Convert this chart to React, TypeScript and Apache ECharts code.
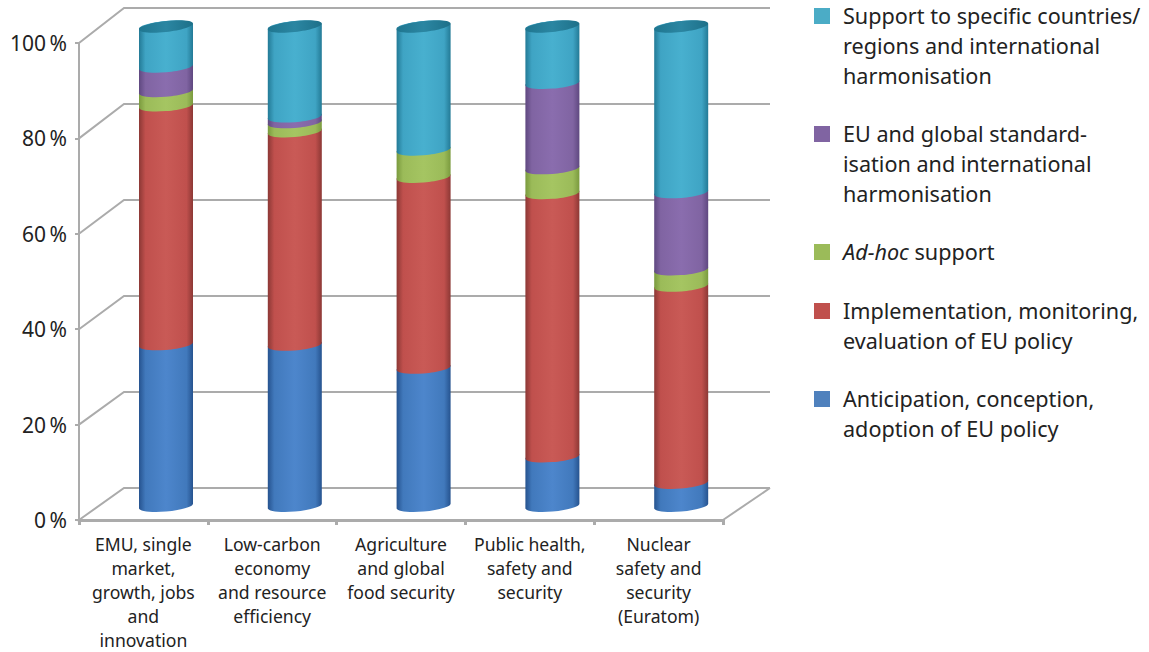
import React, { useEffect, useRef } from "react";
import * as echarts from "echarts";

const categories = [
  "EMU, single\nmarket,\ngrowth, jobs\nand\ninnovation",
  "Low-carbon\neconomy\nand resource\nefficiency",
  "Agriculture\nand global\nfood security",
  "Public health,\nsafety and\nsecurity",
  "Nuclear\nsafety and\nsecurity\n(Euratom)",
];
const anticipation = [33.7, 33.6, 28.8, 10.3, 4.8];
const implementation = [49.8, 44.5, 39.8, 54.9, 41.1];
const adHoc = [3.0, 1.9, 5.7, 5.2, 3.4];
const standardisation = [5.1, 1.2, 0, 17.8, 16.1];
const support = [8.4, 18.8, 25.7, 11.8, 34.6];
const yTicks = [0, 20, 40, 60, 80, 100];

const layers = [
  { name: "Anticipation, conception, adoption of EU policy", values: anticipation, color: "#4179BC", dark: "#26538F", light: "#4D86CC" },
  { name: "Implementation, monitoring, evaluation of EU policy", values: implementation, color: "#C0504D", dark: "#8C3835", light: "#C95A56" },
  { name: "Ad-hoc support", values: adHoc, color: "#9BBB59", dark: "#7A9A3E", light: "#A5C562" },
  { name: "EU and global standardisation and international harmonisation", values: standardisation, color: "#8064A2", dark: "#5F4880", light: "#8A6DAE" },
  { name: "Support to specific countries/regions and international harmonisation", values: support, color: "#3FA4C4", dark: "#237A96", light: "#48B0CF" },
];

const legendItems = [
  { text: "Support to specific countries/\nregions and international\nharmonisation", color: "#4BACC6", y: 8 },
  { text: "EU and global standard-\nisation and international\nharmonisation", color: "#8064A2", y: 126 },
  { text: "{i|Ad-hoc} support", color: "#9BBB59", y: 244 },
  { text: "Implementation, monitoring,\nevaluation of EU policy", color: "#C0504D", y: 303 },
  { text: "Anticipation, conception,\nadoption of EU policy", color: "#4F81BD", y: 391 },
];

const FONT = "'Noto Sans', sans-serif";
const GRID_COLOR = "#ABABAB";
const RADIUS = 27;
const TILT = 2.2;
const CAP_TILT = 3;
const RY = 5.5;
const DEPTH_X = 22.6;
const K = 0.5523;

const depthY = (v: number) => 14 + v * 0.025;

function cylinderPath(cx: number, yb: number, yt: number) {
  const r = RADIUS, t = TILT, ry = RY;
  return [
    `M${cx - r} ${yb + t}`,
    `C${cx - r} ${yb + t + K * ry} ${cx - K * r} ${yb + ry + K * t} ${cx} ${yb + ry}`,
    `C${cx + K * r} ${yb + ry - K * t} ${cx + r} ${yb - t + K * ry} ${cx + r} ${yb - t}`,
    `L${cx + r} ${yt - t}`,
    `C${cx + r} ${yt - t - K * ry} ${cx + K * r} ${yt - ry - K * t} ${cx} ${yt - ry}`,
    `C${cx - K * r} ${yt - ry + K * t} ${cx - r} ${yt + t - K * ry} ${cx - r} ${yt + t}`,
    "Z",
  ].join(" ");
}

function ellipsePath(cx: number, y: number) {
  const r = RADIUS, t = CAP_TILT, ry = RY;
  return [
    `M${cx - r} ${y + t}`,
    `C${cx - r} ${y + t + K * ry} ${cx - K * r} ${y + ry + K * t} ${cx} ${y + ry}`,
    `C${cx + K * r} ${y + ry - K * t} ${cx + r} ${y - t + K * ry} ${cx + r} ${y - t}`,
    `C${cx + r} ${y - t - K * ry} ${cx + K * r} ${y - ry - K * t} ${cx} ${y - ry}`,
    `C${cx - K * r} ${y - ry + K * t} ${cx - r} ${y + t - K * ry} ${cx - r} ${y + t}`,
    "Z",
  ].join(" ");
}

function buildOption() {
  const cum = categories.map(() => 0);
  const layerSeries = layers.map((layer, li) => {
    const data = layer.values.map((v, i) => {
      const start = cum[i];
      cum[i] += v;
      return [i, start, cum[i]];
    });
    const fill = new echarts.graphic.LinearGradient(0, 0, 1, 0, [
      { offset: 0, color: layer.dark },
      { offset: 0.12, color: layer.color },
      { offset: 0.5, color: layer.light },
      { offset: 0.88, color: layer.color },
      { offset: 1, color: layer.dark },
    ]);
    const capFill = new echarts.graphic.LinearGradient(0, 0, 1, 0, [
      { offset: 0, color: "#1F7690" },
      { offset: 0.5, color: "#2B86A2" },
      { offset: 1, color: "#1D7089" },
    ]);
    return {
      type: "custom",
      name: layer.name,
      z: 5 + li,
      data,
      renderItem: (_p: any, api: any) => {
        if (api.value(2) - api.value(1) <= 0) return { type: "group", children: [] };
        const [x, yb] = api.coord([api.value(0), api.value(1)]);
        const [, yt] = api.coord([api.value(0), api.value(2)]);
        const cx = x + DEPTH_X;
        const bottom = yb - depthY(api.value(1));
        const top = yt - depthY(api.value(2));
        const children: any[] = [
          { type: "path", shape: { pathData: cylinderPath(cx, bottom, top) }, style: { fill } },
        ];
        if (li === layers.length - 1) {
          children.push({
            type: "path",
            shape: { pathData: ellipsePath(cx, top) },
            style: { fill: capFill },
          });
        }
        return { type: "group", children };
      },
    };
  });

  const wallSeries = {
    type: "custom",
    name: "walls",
    z: 1,
    silent: true,
    data: yTicks.map((t) => [t]),
    renderItem: (params: any, api: any) => {
      const v = api.value(0);
      const [, y] = api.coord([0, v]);
      const left = params.coordSys.x;
      const right = left + params.coordSys.width;
      const backY = y - 32 - (v / 100) * 3;
      const children: any[] = [
        {
          type: "polyline",
          shape: { points: [[left, y], [left + 45, backY], [right + 47, backY]] },
          style: { stroke: GRID_COLOR, lineWidth: 2, fill: "none" },
        },
      ];
      if (v === 0) {
        children.push({
          type: "line",
          shape: { x1: right, y1: y, x2: right + 47, y2: backY },
          style: { stroke: GRID_COLOR, lineWidth: 2 },
        });
      }
      return { type: "group", children };
    },
  };

  const graphic = legendItems.flatMap((item) => [
    { type: "rect", left: 814, top: item.y, shape: { width: 16, height: 16 }, style: { fill: item.color } },
    {
      type: "text",
      x: 843,
      y: item.y - 7,
      style: {
        text: item.text,
        font: `21.6px ${FONT}`,
        fill: "#222222",
        lineHeight: 29.6,
        rich: { i: { fontStyle: "italic", fontSize: 21.6, fontFamily: "Noto Sans", fill: "#222222", lineHeight: 29.6 } },
      },
    },
  ]);

  return {
    animation: false,
    backgroundColor: "#ffffff",
    grid: { left: 79, right: 426, top: 43, bottom: 132, containLabel: false },
    xAxis: {
      type: "category",
      data: categories,
      axisLine: { show: true, lineStyle: { color: GRID_COLOR, width: 3 } },
      axisTick: { show: true, length: 5, lineStyle: { color: GRID_COLOR, width: 3 } },
      axisLabel: {
        interval: 0,
        color: "#222222",
        fontFamily: FONT,
        fontSize: 17.6,
        lineHeight: 24,
        margin: 12,
      },
    },
    yAxis: {
      type: "value",
      min: 0,
      max: 100,
      interval: 20,
      axisLine: { show: true, lineStyle: { color: GRID_COLOR, width: 2 } },
      axisTick: { show: true, length: 4, lineStyle: { color: GRID_COLOR, width: 2 } },
      splitLine: { show: false },
      axisLabel: {
        color: "#222222",
        fontFamily: FONT,
        fontSize: 21,
        margin: 12,
        formatter: (v: number) => `${v}\u2009%`,
      },
    },
    graphic,
    series: [wallSeries, ...layerSeries],
  };
}

export default function App() {
  const ref = useRef<HTMLDivElement>(null);
  useEffect(() => {
    const chart = echarts.init(ref.current!, undefined, { renderer: "svg" });
    chart.setOption(buildOption() as any);
    return () => chart.dispose();
  }, []);
  return <div ref={ref} style={{ position: "fixed", left: 0, top: 0, width: 1149, height: 652 }} />;
}
